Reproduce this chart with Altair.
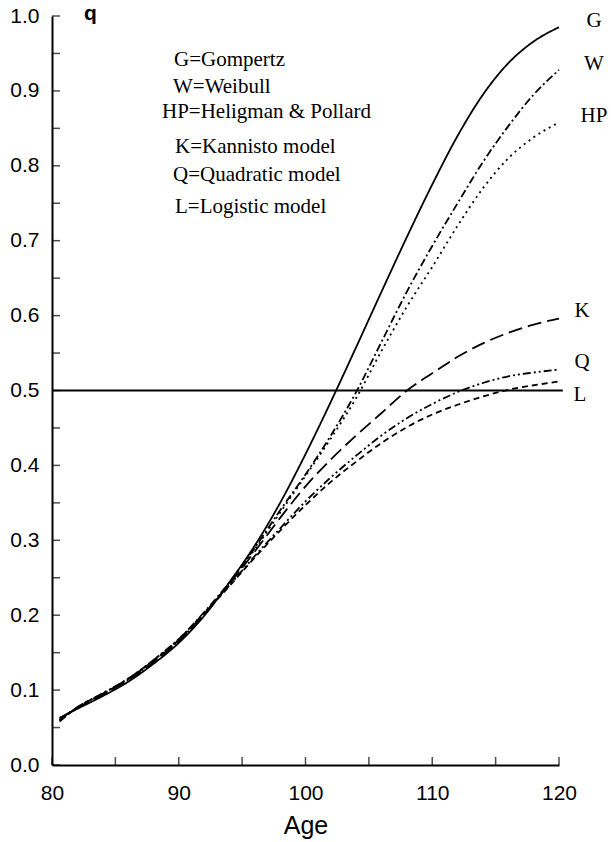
import altair as alt
import pandas as pd

# ---- data ----
AGES = [80.6, 82, 84, 86, 88, 90, 92, 94, 96, 98, 100, 102, 104, 106, 108, 110, 112, 114, 116, 118, 120]

G_Q = [0.063, 0.075, 0.092, 0.111, 0.135, 0.163, 0.199, 0.244, 0.293, 0.350, 0.415, 0.485, 0.558, 0.632, 0.705, 0.775, 0.840, 0.895, 0.937, 0.966, 0.985]
W_Q = [0.058, 0.077, 0.095, 0.115, 0.140, 0.168, 0.204, 0.244, 0.290, 0.340, 0.388, 0.440, 0.498, 0.565, 0.632, 0.693, 0.750, 0.805, 0.853, 0.895, 0.928]
HP_Q = [0.060, 0.077, 0.095, 0.114, 0.138, 0.166, 0.202, 0.243, 0.288, 0.337, 0.386, 0.436, 0.490, 0.553, 0.612, 0.665, 0.720, 0.770, 0.810, 0.838, 0.858]
K_Q = [0.062, 0.076, 0.094, 0.113, 0.137, 0.165, 0.201, 0.242, 0.285, 0.330, 0.372, 0.408, 0.440, 0.470, 0.500, 0.523, 0.545, 0.563, 0.577, 0.588, 0.596]
QM_Q = [0.060, 0.077, 0.096, 0.115, 0.140, 0.168, 0.203, 0.240, 0.279, 0.316, 0.352, 0.384, 0.413, 0.440, 0.463, 0.482, 0.498, 0.510, 0.519, 0.524, 0.528]
L_Q = [0.059, 0.077, 0.095, 0.115, 0.139, 0.167, 0.202, 0.239, 0.277, 0.313, 0.347, 0.378, 0.405, 0.430, 0.451, 0.468, 0.481, 0.492, 0.501, 0.507, 0.512]

MODELS = ["G", "W", "HP", "K", "Q", "L"]
SERIES = [G_Q, W_Q, HP_Q, K_Q, QM_Q, L_Q]
LEGEND_LINES = ["G=Gompertz", "W=Weibull", "HP=Heligman & Pollard",
                "K=Kannisto model", "Q=Quadratic model", "L=Logistic model"]
REF_Q = 0.5
X_TICKS = list(range(80, 121, 5))
Y_TICKS = [round(i * 0.05, 2) for i in range(21)]

# ---- layout / style ----
W, H = 507, 749
PAD = {"left": 52, "top": 16, "right": 52, "bottom": 77}
SANS = "Liberation Sans"
SERIF = "Liberation Serif"
DASHES = [[1, 0], [8, 3, 2, 3], [2, 4], [14, 6], [8, 3, 2, 3, 2, 3], [6, 4]]

rows = []
for name, vals in zip(MODELS, SERIES):
    for a, v in zip(AGES, vals):
        rows.append({"model": name, "age": a, "q": v})
df = pd.DataFrame(rows)

x_scale = alt.Scale(domain=[80, 120], nice=False, zero=False)
y_scale = alt.Scale(domain=[0, 1], nice=False)

x_axis = alt.Axis(
    values=X_TICKS, format="d",
    labelExpr="datum.value % 10 == 0 ? datum.label : ''",
    grid=False, ticks=False, domainColor="black", domainWidth=2,
    labelFont=SANS, labelFontSize=21, labelColor="black", labelPadding=17,
    labelFlush=False, labelOverlap=False,
    title="Age", titleFont=SANS, titleFontSize=25, titleFontWeight="normal",
    titleColor="black", titlePadding=10,
)
y_axis = alt.Axis(
    values=Y_TICKS,
    labelExpr="round(datum.value * 100) % 10 == 0 ? format(datum.value, '.1f') : ''",
    grid=False, ticks=False, domainColor="black", domainWidth=2,
    labelFont=SANS, labelFontSize=21, labelColor="black", labelPadding=13,
    labelFlush=False, labelOverlap=False,
    title="q", titleAngle=0, titleX=38, titleY=-14, titleAlign="center",
    titleBaseline="top", titleFont=SANS, titleFontSize=21,
    titleFontWeight="bold", titleColor="black",
)

lines = alt.Chart(df).mark_line(color="black", strokeWidth=1.8, interpolate="monotone").encode(
    x=alt.X("age:Q", scale=x_scale, axis=x_axis),
    y=alt.Y("q:Q", scale=y_scale, axis=y_axis),
    detail="model:N",
    strokeDash=alt.StrokeDash("model:N", scale=alt.Scale(domain=MODELS, range=DASHES), legend=None),
    order="age:Q",
)

# inward-pointing tick marks
x_ticks = alt.Chart(pd.DataFrame({"age": X_TICKS})).mark_tick(
    orient="vertical", color="black", thickness=1.5, size=8
).encode(x=alt.X("age:Q", scale=x_scale), y=alt.value(H - 4))
y_ticks = alt.Chart(pd.DataFrame({"q": Y_TICKS})).mark_tick(
    orient="horizontal", color="black", thickness=1.5, size=8
).encode(y=alt.Y("q:Q", scale=y_scale), x=alt.value(4))

ref = alt.Chart(pd.DataFrame({"q": [REF_Q], "a0": [80], "a1": [120.3]})).mark_rule(
    color="black", strokeWidth=1.8
).encode(x=alt.X("a0:Q", scale=x_scale), x2="a1:Q", y=alt.Y("q:Q", scale=y_scale))

# end labels derived from the series' last values
end_rows = []
for name, vals in zip(MODELS, SERIES):
    grp = "top" if name in ("G", "W", "HP") else ("ref" if name == "L" else "mid")
    end_rows.append({"model": name, "age": AGES[-1],
                     "q": REF_Q if name == "L" else vals[-1], "grp": grp})
ends = pd.DataFrame(end_rows)


def end_layer(grp, dx, dy):
    return alt.Chart(ends).transform_filter(f"datum.grp == '{grp}'").mark_text(
        font=SERIF, fontSize=21, align="center", baseline="middle", dx=dx, dy=dy, color="black"
    ).encode(x=alt.X("age:Q", scale=x_scale), y=alt.Y("q:Q", scale=y_scale), text="model:N")


end_top = end_layer("top", 35, -6)
end_mid = end_layer("mid", 23, -8)
end_ref = end_layer("ref", 21, 4)

# in-plot key text block (pixel positions on the page)
KEY_POS = [(174, 60), (173, 87), (162, 112), (175, 147), (173, 175), (175, 207)]
key_layers = []
one = pd.DataFrame({"k": [0]})
for txt, (px, py) in zip(LEGEND_LINES, KEY_POS):
    key_layers.append(
        alt.Chart(one).mark_text(font=SERIF, fontSize=21, align="left", baseline="middle",
                                 color="black").encode(
            x=alt.value(px - PAD["left"]), y=alt.value(py - PAD["top"]), text=alt.value(txt))
    )

chart = alt.layer(lines, x_ticks, y_ticks, ref, end_top, end_mid, end_ref, *key_layers).properties(
    width=W, height=H,
    autosize=alt.AutoSizeParams(type="none"),
    padding=PAD,
    background="white",
).configure_view(stroke=None)

chart.save("out.html", embed_options={"renderer": "svg", "actions": False})
